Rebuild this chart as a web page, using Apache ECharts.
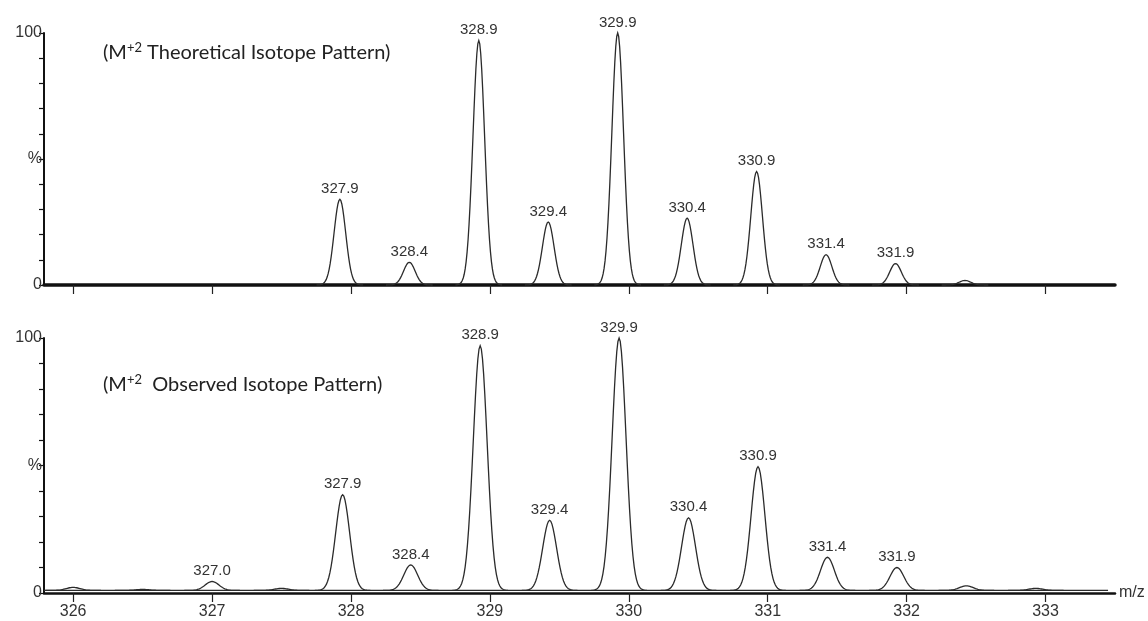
<!DOCTYPE html>
<html>
<head>
<meta charset="utf-8">
<script src="https://cdn.jsdelivr.net/npm/echarts@6/dist/echarts.min.js"></script>
<style>
  html, body { margin: 0; padding: 0; background: #fff; }
  #chart { width: 1148px; height: 621px; }
</style>
</head>
<body>
<div id="chart"></div>
<script>
  // peak centroids (m/z) and relative intensity (%)
  const theoMz = [327.92, 328.42, 328.92, 329.42, 329.92, 330.42, 330.92, 331.42, 331.92, 332.42]
  const theoInt = [34, 9, 97, 25, 100, 26.5, 45, 12, 8.5, 1.8]
  const theoLabels = ['327.9', '328.4', '328.9', '329.4', '329.9', '330.4', '330.9', '331.4', '331.9', '']

  const obsMz = [326.0, 326.5, 327.0, 327.5, 327.94, 328.43, 328.93, 329.43, 329.93, 330.43, 330.93, 331.43, 331.93, 332.43, 332.93]
  const obsInt = [2.2, 1.4, 4.5, 1.8, 38.5, 11, 97, 28.5, 100, 29.5, 49.5, 14, 10, 2.8, 1.8]
  const obsLabels = ['', '', '327.0', '', '327.9', '328.4', '328.9', '329.4', '329.9', '330.4', '330.9', '331.4', '331.9', '', '']
  const obsBaseline = 1

  const xTicks = [326, 327, 328, 329, 330, 331, 332, 333]
  const xMin = 325.79
  const xMax = 333.5

  const chartInstance = echarts.init(document.getElementById('chart'))
  const lineColor = '#2b2b2b'
  const sans = "'Liberation Sans', Arial, sans-serif"

  // draws one gaussian-shaped peak per data item, plus its m/z label
  function peakRenderer(labels, base, sigma){
    return function(params, api){
      const mz = api.value(0)
      const h = api.value(1) - base
      const pts = []
      const n = 24
      const half = sigma * 4
      for(let k = -n; k <= n; k++){
        const dx = half * k / n
        pts.push(api.coord([mz + dx, base + h * Math.exp(-0.5 * (dx / sigma) * (dx / sigma))]))
      }
      const top = api.coord([mz, api.value(1)])
      const children = [{
        type: 'polyline',
        shape: { points: pts },
        style: { stroke: lineColor, lineWidth: 1.3, fill: null }
      }]
      const txt = labels[params.dataIndex]
      if(txt){
        children.push({
          type: 'text',
          x: top[0],
          y: top[1] - 3,
          style: {
            text: txt,
            fill: '#333',
            font: '15px ' + sans,
            align: 'center',
            verticalAlign: 'bottom'
          }
        })
      }
      return { type: 'group', children: children }
    }
  }

  function yAxisFor(gridIndex){
    return {
      type: 'value',
      gridIndex: gridIndex,
      min: 0,
      max: 100,
      interval: 10,
      axisLine: { show: true, lineStyle: { color: '#111', width: 2 } },
      axisTick: { show: true, length: 5, lineStyle: { color: '#111', width: 1.2 } },
      axisLabel: {
        margin: 2,
        color: '#333',
        fontFamily: sans,
        fontSize: 16,
        formatter: (v) => v === 100 ? '100' : v === 50 ? '%' : v === 0 ? '0' : ''
      },
      splitLine: { show: false }
    }
  }

  function xAxisFor(gridIndex, showLabels){
    return {
      type: 'value',
      gridIndex: gridIndex,
      min: xMin,
      max: xMax,
      name: showLabels ? 'm/z' : '',
      nameLocation: 'end',
      nameGap: 4,
      nameTextStyle: { color: '#333', fontFamily: sans, fontSize: 16, verticalAlign: 'middle' },
      axisLine: { show: true, onZero: false, lineStyle: { color: '#111', width: showLabels ? 2.5 : 3.5 } },
      axisTick: { show: true, length: 9, customValues: xTicks, lineStyle: { color: '#222', width: 1.2 } },
      axisLabel: {
        show: showLabels,
        customValues: xTicks,
        margin: 11,
        color: '#333',
        fontFamily: sans,
        fontSize: 16
      },
      splitLine: { show: false }
    }
  }

  const titleRich = {
    a: { fontFamily: 'Lato', fontWeight: 'normal', fontSize: 20, color: '#222', lineHeight: 24 },
    s: { fontFamily: 'Lato', fontWeight: 'normal', fontSize: 13, color: '#222', lineHeight: 14, verticalAlign: 'top' }
  }

  const option = {
    animation: false,
    backgroundColor: '#fff',
    title: [
      {
        text: '{a|(M}{s|+2}{a| Theoretical Isotope Pattern)}',
        left: 103,
        top: 41,
        padding: 0,
        textStyle: { fontWeight: 'normal', rich: titleRich }
      },
      {
        text: '{a|(M}{s|+2}{a|  Observed Isotope Pattern)}',
        left: 103,
        top: 373,
        padding: 0,
        textStyle: { fontWeight: 'normal', rich: titleRich }
      }
    ],
    grid: [
      { left: 44, right: 33, top: 33, height: 252 },
      { left: 44, right: 33, top: 338, height: 255 }
    ],
    xAxis: [xAxisFor(0, false), xAxisFor(1, true)],
    yAxis: [yAxisFor(0), yAxisFor(1)],
    series: [
      {
        type: 'custom',
        xAxisIndex: 0,
        yAxisIndex: 0,
        renderItem: peakRenderer(theoLabels, 0, 0.042),
        data: theoMz.map((m, i) => [m, theoInt[i]]),
        z: 3
      },
      {
        type: 'line',
        xAxisIndex: 1,
        yAxisIndex: 1,
        data: [[xMin, obsBaseline], [xMax - 0.05, obsBaseline]],
        symbol: 'none',
        lineStyle: { color: lineColor, width: 1.3 },
        z: 2
      },
      {
        type: 'custom',
        xAxisIndex: 1,
        yAxisIndex: 1,
        renderItem: peakRenderer(obsLabels, obsBaseline, 0.05),
        data: obsMz.map((m, i) => [m, obsInt[i]]),
        z: 3
      }
    ]
  }
  chartInstance.setOption(option)
</script>
</body>
</html>
